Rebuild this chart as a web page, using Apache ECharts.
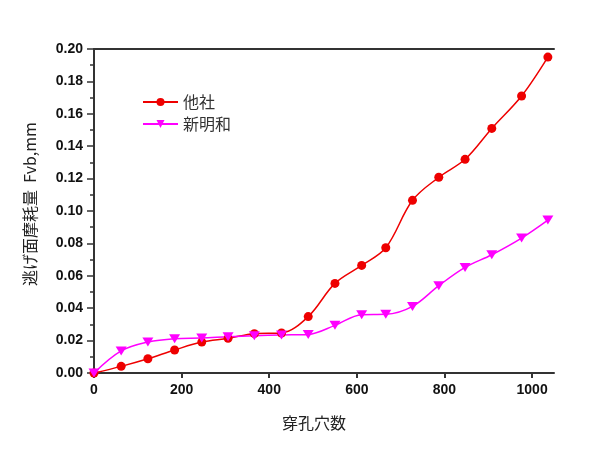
<!DOCTYPE html>
<html><head><meta charset="utf-8">
<script src="https://cdn.jsdelivr.net/npm/echarts@6/dist/echarts.min.js"></script>
<style>html,body{margin:0;padding:0;background:#fff}#c{width:600px;height:450px}</style>
</head><body><div id="c"></div>
<script>
const xValues = [0, 62, 123, 184, 246, 306, 366, 428, 489, 550, 611, 666, 727, 787, 847, 908, 976, 1036];
const otherCo = [0, 0.0041, 0.0088, 0.0142, 0.0191, 0.0214, 0.0243, 0.0247, 0.0348, 0.0553, 0.0664, 0.0773, 0.1066, 0.1208, 0.1319, 0.151, 0.171, 0.195];
const shinMaywa = [0, 0.0136, 0.0191, 0.0212, 0.0216, 0.0224, 0.023, 0.0235, 0.0238, 0.0294, 0.036, 0.0362, 0.0411, 0.0539, 0.0652, 0.073, 0.0833, 0.0944];
const seriesNames = ['他社', '新明和'];
const xTicks = [0, 200, 400, 600, 800, 1000];

const cjk = '"Noto Sans CJK JP", "Noto Sans CJK SC", sans-serif';
const num = '"Liberation Sans", Arial, sans-serif';
const chart = echarts.init(document.getElementById('c'));
chart.setOption({
  animation: false,
  backgroundColor: '#fff',
  grid: { left: 94, right: 46, top: 49, bottom: 77 },
  legend: {
    left: 137, top: 89, orient: 'vertical', itemGap: 6, itemWidth: 35, itemHeight: 10,
    textStyle: { fontFamily: cjk, fontSize: 16, color: '#333' },
    data: seriesNames
  },
  xAxis: [{
    type: 'value', min: 0, max: 1050, interval: 200,
    name: '穿孔穴数', nameLocation: 'middle', nameGap: 42,
    nameTextStyle: { fontFamily: cjk, fontSize: 16, color: '#222', padding: [0, 20, 0, 0] },
    axisLine: { show: true, onZero: false, lineStyle: { color: '#333', width: 2 } },
    axisTick: { show: true, inside: false, length: 5, customValues: xTicks, lineStyle: { color: '#333', width: 2 } },
    axisLabel: { customValues: xTicks, margin: 10, fontFamily: num, fontWeight: 'bold', fontSize: 14, color: '#111', formatter: v => String(v) },
    splitLine: { show: false }
  }, {
    type: 'value', position: 'top', min: 0, max: 1050,
    axisLine: { show: true, onZero: false, lineStyle: { color: '#333', width: 2 } },
    axisTick: { show: false }, axisLabel: { show: false }, splitLine: { show: false }
  }],
  yAxis: {
    type: 'value', min: 0, max: 0.2, interval: 0.02,
    name: '逃げ面摩耗量  Fvb,mm', nameLocation: 'middle', nameGap: 56,
    nameTextStyle: { fontFamily: cjk, fontSize: 16, color: '#222', padding: [0, 0, 0, 14] },
    axisLine: { show: true, lineStyle: { color: '#333', width: 2 } },
    axisTick: { show: true, length: 7, lineStyle: { color: '#333', width: 1.5 } },
    minorTick: { show: true, splitNumber: 2, length: 4, lineStyle: { color: '#333', width: 1.5 } },
    axisLabel: { margin: 11, fontFamily: num, fontWeight: 'bold', fontSize: 14, color: '#111', formatter: v => v.toFixed(2) },
    splitLine: { show: false }
  },
  series: [{
    name: seriesNames[0], type: 'line', smooth: 0.35,
    data: xValues.map((x, i) => [x, otherCo[i]]),
    symbol: 'circle', symbolSize: 9,
    lineStyle: { color: '#ee0000', width: 1.5 },
    itemStyle: { color: '#ee0000' }
  }, {
    name: seriesNames[1], type: 'line', smooth: 0.35,
    data: xValues.map((x, i) => [x, shinMaywa[i]]),
    symbol: 'triangle', symbolRotate: 180, symbolSize: [11, 9],
    lineStyle: { color: '#ff00ff', width: 1.5 },
    itemStyle: { color: '#ff00ff' }
  }]
});
</script></body></html>
